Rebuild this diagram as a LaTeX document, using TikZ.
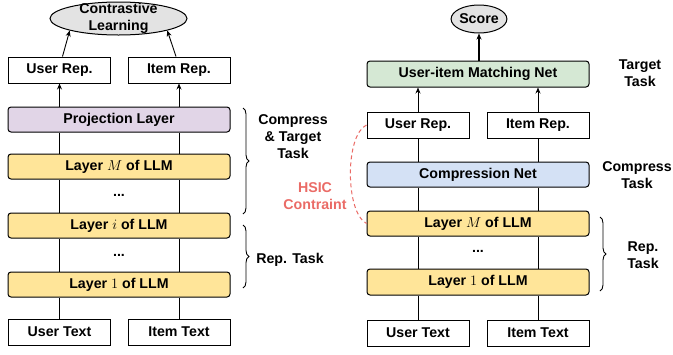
\documentclass[tikz,border=0pt]{standalone}
\usepackage{fontspec}
\setmainfont{Liberation Sans}
\usetikzlibrary{shapes.geometric,arrows.meta,decorations.pathreplacing}
\definecolor{yel}{HTML}{FFE599}
\definecolor{pur}{HTML}{E1D5E7}
\definecolor{blu}{HTML}{D4E1F5}
\definecolor{grn}{HTML}{D5E8D4}
\definecolor{gry}{HTML}{E3E3E3}
\definecolor{hsic}{HTML}{EA6B66}
\begin{document}
\begin{tikzpicture}[x=1pt,y=-1pt,
  every node/.style={font=\fontsize{14.2}{17}\selectfont\bfseries, inner sep=0pt},
  box/.style={draw, line width=1pt, minimum height=26pt, fill=white},
  wbox/.style={box, minimum width=102pt},
  lay/.style={box, rounded corners=3pt, minimum width=222pt, minimum height=25pt},
  ell/.style={draw, line width=1pt, ellipse, fill=gry, align=center},
  conn/.style={line width=0.9pt},
  arr/.style={conn, -{Stealth[length=6pt,width=5pt]}},
  brc/.style={line width=0.9pt, decorate, decoration={brace, amplitude=6pt}},
  lbl/.style={align=center}
]
\useasboundingbox (0,0) rectangle (673,354);

% ---------- left panel ----------
\node[ell, minimum width=137pt, minimum height=33pt] (cl) at (118.5,18.5) {};
\node[lbl, font=\fontsize{14.2}{17}\selectfont\bfseries] (cltxt) at (118.5,18.5) {Contrastive\\Learning};
\node[wbox] (ur1) at (59.5,70) {User Rep.};
\node[wbox] (ir1) at (179,70) {Item Rep.};
\node[lay, fill=pur] (proj) at (119,119.5) {Projection Layer};
\node[lay, fill=yel] (lm1) at (119,166.5) {Layer $M$ of LLM};
\node (d1) at (119,195) {...};
\node[lay, fill=yel] (li1) at (119,225.5) {Layer $i$ of LLM};
\node (d2) at (119,255) {...};
\node[lay, fill=yel] (l11) at (119,284.5) {Layer $1$ of LLM};
\node[wbox] (ut1) at (59.5,332) {User Text};
\node[wbox] (it1) at (179,332) {Item Text};

\foreach \c in {ut1,it1}{
  \draw[conn] (\c.north) -- (\c.north |- l11.south);
  \draw[conn] (\c.north |- l11.north) -- (\c.north |- li1.south);
  \draw[conn] (\c.north |- li1.north) -- (\c.north |- lm1.south);
  \draw[conn] (\c.north |- lm1.north) -- (\c.north |- proj.south);
}
\draw[arr] (ur1.north |- proj.north) -- (ur1.south);
\draw[arr] (ir1.north |- proj.north) -- (ir1.south);
\draw[arr] ([xshift=3pt]ur1.north) -- (cl.south west);
\draw[arr] ([xshift=-3pt]ir1.north) -- (cl.south east);

\draw[brc] (243,108) -- (243,214);
\draw[brc] (243,225) -- (243,288);
\node[lbl] (t1) at (293,137) {Compress\\\& Target\\Task};
\node[lbl] (t2) at (290,260) {Rep. Task};

% ---------- right panel ----------
\node[ell, minimum width=54pt, minimum height=28pt] (sc) at (479,19) {Score};
\node[lay, fill=grn, minimum height=26pt] (mt) at (478,74) {User-item Matching Net};
\node[wbox] (ur2) at (418,125) {User Rep.};
\node[wbox] (ir2) at (538,125) {Item Rep.};
\node[lay, fill=blu] (cp) at (478,174.5) {Compression Net};
\node[lay, fill=yel] (lm2) at (478,223.5) {Layer $M$ of LLM};
\node (d3) at (478,251) {...};
\node[lay, fill=yel, minimum height=26pt] (l12) at (478,282) {Layer $1$ of LLM};
\node[wbox] (ut2) at (418,333) {User Text};
\node[wbox] (it2) at (538,333) {Item Text};

\foreach \c in {ut2,it2}{
  \draw[conn] (\c.north) -- (\c.north |- l12.south);
  \draw[conn] (\c.north |- l12.north) -- (\c.north |- lm2.south);
  \draw[conn] (\c.north |- lm2.north) -- (\c.north |- cp.south);
  \draw[conn] (\c.north |- cp.north) -- (\c.north |- ur2.south);
}
\draw[arr] (ur2.north) -- (ur2.north |- mt.south);
\draw[arr] (ir2.north) -- (ir2.north |- mt.south);
\draw[arr, line width=1.6pt] (mt.north -| sc.south) -- (sc.south);

\draw[brc] (600,217) -- (600,291);
\node[lbl] (t3) at (640,73) {Target\\Task};
\node[lbl] (t4) at (637,175) {Compress\\Task};
\node[lbl] (t5) at (643,255) {Rep.\\Task};

\draw[hsic, line width=1pt, dashed, dash pattern=on 4pt off 3pt] (ur2.west) .. controls (345,135) and (345,212) .. (lm2.west);
\node[lbl, text=hsic] (hs) at (315,196) {HSIC\\Contraint};
\end{tikzpicture}
\end{document}
